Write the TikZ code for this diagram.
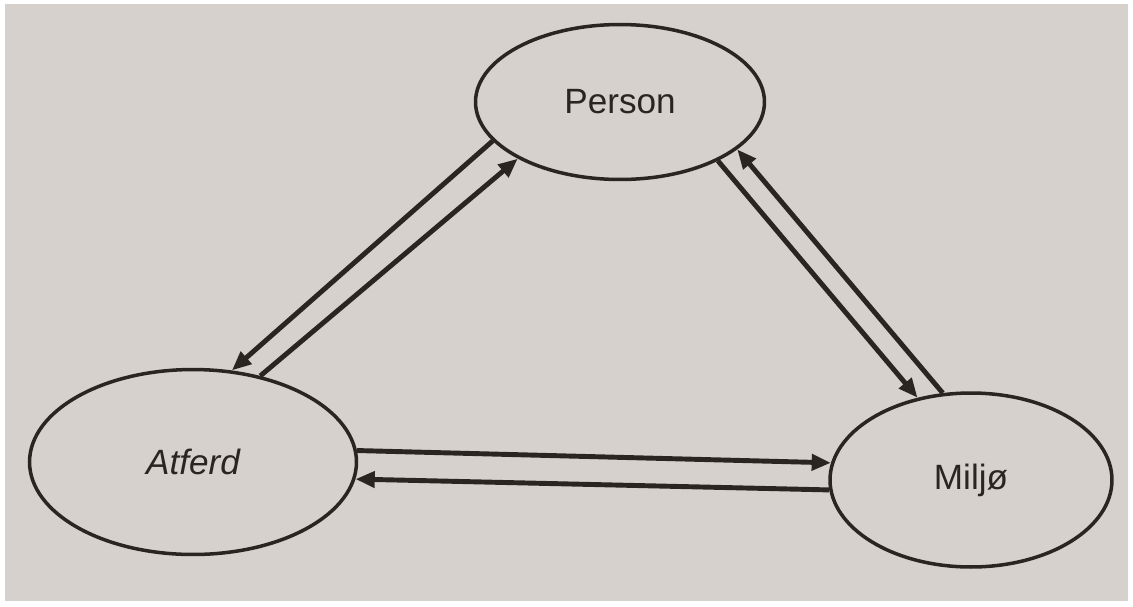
\documentclass[tikz,border=0pt]{standalone}
\usepackage{fontspec}
\setmainfont{Liberation Sans}
\usetikzlibrary{shapes.geometric, arrows.meta}
\usetikzlibrary{positioning}
\definecolor{papir}{HTML}{D6D1CD}
\definecolor{blekk}{HTML}{2B2522}
\tikzset{
  el/.style={ellipse, inner sep=0pt, text centered, draw=blekk, line width=2pt, fill=papir, text=blekk, font=\fontsize{20}{24}\selectfont},
  pl/.style={draw=blekk, line width=2.8pt, -{Triangle[length=11pt,width=9pt]}}
}

\begin{document}
\begin{tikzpicture}[x=0.02cm, y=-0.02cm]
	\fill[white] (0,0) rectangle (1133,606);
	\fill[papir] (5,4) rectangle (1128,601);
	\useasboundingbox (0,0) rectangle (1133,606);
	\node[el, minimum width=5.78cm, minimum height=3.1cm] (per) at (620,102) {Person};
	\node[el, minimum width=6.54cm, minimum height=3.7cm] (atf) at (193,462) {\itshape Atferd};
	\node[el, minimum width=5.64cm, minimum height=3.48cm] (mil) at (971,480) {Miljø};
	\path
	(per.197) edge[pl] (atf.67)
	(atf.52) edge[pl] (per.209)
	(per.-31) edge[pl] (mil.123)
	(mil.108) edge[pl] (per.-22)
	(atf.4) edge[pl] (mil.173)
	(mil.184) edge[pl] (atf.-6);
\end{tikzpicture}
\end{document}
